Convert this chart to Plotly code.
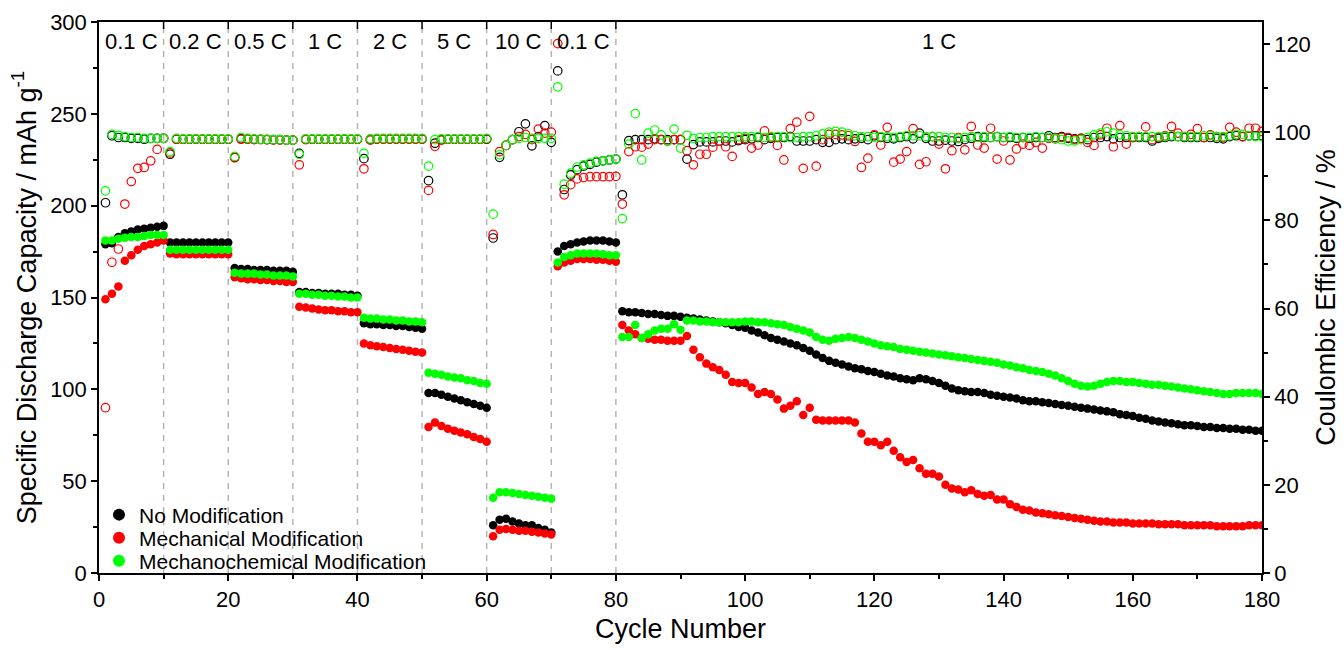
import plotly.graph_objects as go

cycles = list(range(1, 181))

# Specific discharge capacity (mAh g-1)
cap_none = [
    179, 179.5, 183, 185, 186, 187, 187.5, 188, 188.5, 189,
    180, 180, 180, 180, 180, 180, 180, 180, 180, 180,
    166, 165.5, 165.5, 165, 165, 165, 164.5, 164.5, 164.5, 164,
    153, 153, 152.5, 152.5, 152, 152, 152, 151.5, 151.5, 151,
    136, 135.5, 135.5, 135, 135, 134.5, 134.5, 134, 133.5, 133,
    98, 98, 97, 96, 95, 94, 93, 92, 91, 90,
    26, 29, 29.5, 28, 27, 26, 26, 24.5, 23.5, 22,
    175, 178, 179, 180, 180.5, 181, 181, 181, 180.5, 180,
    142.5, 142, 142, 141.5, 141, 141, 140.5, 140, 140, 139.5,
    139, 138.5, 138, 137.5, 137, 136.5, 136, 135, 134, 133.5,
    132, 131, 129.5, 128, 127, 126, 125, 124, 122.5, 121,
    119, 117, 115.5, 114.5, 113.5, 112.5, 111.5, 111, 110, 109.5,
    108.5, 107.5, 107, 106, 105.5, 105, 106, 105.5, 104.5, 103.5,
    102, 100.5, 99.5, 99, 98.5, 98.5, 98, 97, 96.5, 96,
    95.5, 95, 94, 93.5, 93.5, 93, 92.5, 92, 91.5, 91,
    90.5, 90, 89.5, 89, 88.5, 88, 87.5, 86.5, 86, 85.5,
    84.5, 84, 83, 82.5, 82, 81.5, 81, 80.5, 80.5, 80,
    79.5, 79.5, 79, 79, 78.5, 78.5, 78, 78, 77.5, 77.5,
]
cap_mech = [
    149, 152, 156, 170, 173, 176, 178, 179, 180, 181,
    174, 173.5, 173.5, 173.5, 173.5, 173.5, 173.5, 173.5, 173.5, 173.5,
    161, 160.5, 160, 160, 159.5, 159.5, 159, 159, 158.5, 158.5,
    145, 144.5, 144, 143.5, 143, 143, 142.5, 142.5, 142, 142,
    125, 124, 123.5, 123, 122.5, 122, 121.5, 121, 120.5, 120,
    79.5, 82, 80, 78.5, 77.5, 76.5, 75.5, 74, 73, 71.5,
    20, 23.5, 24, 23.5, 23, 23, 22.5, 22, 21.5, 21,
    167, 169, 170, 171, 171, 171, 170.5, 170.5, 170, 169.5,
    135, 132, 130, 128, 127.5, 127, 127, 126.5, 126.5, 126.5,
    129, 121.5, 117.5, 114, 112, 110.5, 108, 104, 103.5, 103.5,
    101, 97.5, 98.5, 97.5, 94.5, 89.5, 91, 93.5, 86, 90,
    83.5, 83, 83, 83, 83, 83, 82, 76, 71.5, 71.5,
    69.5, 71.5, 66.5, 63, 60.5, 61.5, 57, 54, 54, 52.5,
    48, 46, 45.5, 44, 45, 43, 42, 42.5, 40, 40,
    37.5, 36, 34.5, 34, 33, 32.5, 32, 31.5, 31, 30.5,
    30, 29.5, 29, 28.5, 28, 28, 27.5, 27.5, 27.5, 27,
    27, 27, 27, 26.5, 26.5, 26.5, 26.5, 26, 26, 26,
    26, 26, 25.5, 25.5, 25.5, 25.5, 25.5, 26, 26, 26,
]
cap_chem = [
    181, 181, 182, 182.5, 183, 183, 183.5, 184, 184, 184,
    176, 176, 176, 176, 176, 176, 176, 176, 176, 176,
    163.5, 163, 163, 163, 162.5, 162.5, 162, 162, 162, 161.5,
    152, 152, 151.5, 151.5, 151, 151, 150.5, 150.5, 150, 150,
    139, 138.5, 138.5, 138, 138, 137.5, 137.5, 137, 137, 136.5,
    109, 108.5, 108, 107, 106.5, 106, 105, 104.5, 103.5, 103,
    41, 44, 44, 43.5, 43, 42.5, 42, 41.5, 41, 40.5,
    169, 172, 173, 174, 174, 174, 174, 173.5, 173, 173,
    128.5, 128.5, 135, 128, 130, 132, 133, 133, 135.5, 132.5,
    137.5, 137.5, 137, 137, 136.5, 136.5, 136.5, 136.5, 136.5, 137,
    137, 136.5, 136.5, 136, 135.5, 135, 134, 133, 132, 131,
    128.5, 127, 126.5, 127.5, 128, 128.5, 128, 127, 126, 125,
    124, 123.5, 123, 122, 121.5, 121, 120.5, 120, 119.5, 119,
    118.5, 118, 117.5, 117, 116.5, 116, 115.5, 115, 114.5, 113.5,
    113, 112, 111.5, 110.5, 110, 109.5, 108.5, 107.5, 106, 104.5,
    103, 102, 101.5, 102, 103, 104, 104.5, 104.5, 104, 104,
    103.5, 103, 102.5, 102.5, 102, 101.5, 101, 100.5, 100, 99.5,
    99, 98.5, 98, 97.5, 97.5, 98, 98, 98, 98, 97.5,
]

# Coulombic efficiency (%)
ce_none = [
    84, 99.2, 98.8, 98.8, 98.6, 98.6, 98.4, 98.6, 98.6, 98.6,
    95, 98.4, 98.4, 98.4, 98.4, 98.4, 98.4, 98.4, 98.4, 98.4,
    94.3, 98.5, 98.5, 98.4, 98.4, 98.3, 98.3, 98.3, 98.2, 98.2,
    95.2, 98.4, 98.4, 98.4, 98.4, 98.4, 98.4, 98.4, 98.4, 98.4,
    94, 98.4, 98.5, 98.5, 98.5, 98.5, 98.5, 98.5, 98.5, 98.5,
    89, 97.5, 98.3, 98.4, 98.4, 98.4, 98.4, 98.4, 98.4, 98.4,
    76, 94.3, 97, 98.3, 100.1, 101.9, 96.9, 99, 101.5, 97.7,
    113.9, 87, 90.3, 91.5, 92.3, 92.7, 93.2, 93.5, 93.7, 93.9,
    85.8, 98.1, 98.3, 98.3, 98.3, 98.5, 98.3, 98.3, 98.3, 98.3,
    93.9, 97.2, 97.8, 97.8, 97.8, 98, 98, 97.8, 98.1, 98.3,
    98.5, 98.8, 98.3, 98.6, 98.8, 98.8, 99.0, 98.0, 98.0, 98.0,
    98.3, 97.7, 97.7, 98.3, 98.5, 98.3, 98.5, 98.6, 98.3, 99.2,
    98.8, 98.6, 98.5, 98.8, 99.0, 98.5, 99.8, 98.6, 98.0, 98.0,
    98.2, 98.0, 97.9, 98.3, 98.6, 99.0, 98.8, 98.8, 99.0, 98.8,
    98.8, 98.6, 98.8, 98.6, 98.8, 98.8, 99.2, 98.8, 99.0, 98.6,
    98.5, 98.6, 98.3, 98.8, 98.8, 99.0, 98.5, 98.8, 98.8, 98.8,
    98.8, 98.8, 98.0, 98.6, 98.8, 99.0, 99.0, 98.8, 98.8, 98.8,
    98.8, 98.8, 98.6, 98.5, 99.0, 99.2, 99.0, 99.2, 99.2, 99.2,
]
ce_mech = [
    37.5, 70.5, 73.5, 83.7, 88.8, 91.8, 92, 93.5, 96.1, 98.6,
    95.3, 98.4, 98.4, 98.4, 98.5, 98.4, 98.4, 98.4, 98.4, 98.4,
    94.2, 98.4, 98.4, 98.3, 98.3, 98.3, 98.2, 98.2, 98.2, 98.2,
    92.6, 98.3, 98.4, 98.4, 98.4, 98.4, 98.4, 98.4, 98.4, 98.4,
    91.7, 98.2, 98.4, 98.4, 98.4, 98.4, 98.4, 98.4, 98.4, 98.4,
    86.8, 96.8, 98.2, 98.4, 98.4, 98.4, 98.4, 98.4, 98.4, 98.5,
    76.8, 95.6, 97, 98.3, 99, 99.5, 98.3, 100.7, 99.8, 100,
    120.1, 85.8, 88.1, 89.4, 89.7, 89.9, 89.9, 89.9, 89.9, 90,
    83.7, 95.6, 96.7, 96.6, 97.3, 98.3, 98.3, 98, 98.3, 98.3,
    95.8, 92.6, 95, 95, 96.6, 98, 96.7, 94.5, 98.3, 98.6,
    96.4, 97.1, 100.3, 98.8, 97.0, 93.7, 100.8, 102.3, 91.8, 103.6,
    92.3, 98.3, 99.5, 99.5, 99.4, 99.2, 97.9, 92.0, 94.1, 99.4,
    97.1, 101.1, 93.2, 93.9, 95.6, 100.8, 92.7, 93.3, 99.0, 97.3,
    91.7, 95.8, 98.8, 96.0, 101.3, 97.1, 96.4, 100.9, 93.9, 98.0,
    93.7, 96.2, 97.3, 97.0, 97.7, 96.4, 98.6, 98.5, 98.8, 98.8,
    98.3, 98.6, 97.7, 97.0, 99.4, 100.9, 96.7, 101.5, 97.3, 98.8,
    99.0, 101.2, 98.3, 98.8, 99.2, 101.3, 99.8, 99.0, 99.5, 100.8,
    98.8, 99.4, 99.0, 98.8, 101.1, 100.0, 99.0, 100.9, 100.9, 100.2,
]
ce_chem = [
    86.7, 99.5, 99.3, 99.0, 98.8, 98.8, 98.6, 98.6, 98.6, 98.6,
    95.6, 98.6, 98.5, 98.5, 98.5, 98.5, 98.5, 98.5, 98.5, 98.5,
    94.5, 98.8, 98.6, 98.5, 98.4, 98.4, 98.3, 98.3, 98.2, 98.2,
    95, 98.5, 98.5, 98.5, 98.5, 98.5, 98.5, 98.5, 98.5, 98.5,
    95.2, 98.5, 98.6, 98.6, 98.6, 98.6, 98.6, 98.6, 98.6, 98.6,
    92.3, 98.3, 98.5, 98.5, 98.5, 98.5, 98.5, 98.5, 98.5, 98.6,
    81.4, 94.9, 97, 98.3, 98.6, 98.8, 98.6, 98.6, 98.6, 98.6,
    110.3, 88.2, 90.7, 92.1, 92.6, 93, 93.4, 93.5, 93.7, 93.9,
    80.4, 97.3, 104.2, 93.7, 99.8, 100.5, 99.4, 98, 100.7, 96.4,
    99.3, 98.6, 98.8, 98.8, 99, 99, 99, 99, 99, 99,
    99, 99, 98.8, 99, 99, 99, 98.8, 98.8, 99, 99,
    99.2, 99.6, 100, 100.2, 100, 99.6, 99.2, 99, 99, 98.8,
    99, 99, 98.8, 99, 99.2, 99.2, 99.2, 99, 99, 99,
    98.8, 98.8, 98.6, 98.8, 99, 98.8, 99, 98.8, 99, 98.8,
    99, 98.8, 98.8, 98.8, 99, 98.8, 98.8, 98.6, 98.3, 98,
    98, 98.3, 98.8, 99.4, 99.8, 100.1, 99.8, 99.4, 99.2, 99,
    99, 99, 99, 99, 99, 99.2, 99, 99, 99, 99,
    99.2, 99.2, 99, 99, 99.2, 99.5, 99.5, 99.2, 99, 99,
]

series_names = ["No Modification", "Mechanical Modification", "Mechanochemical Modification"]
series_colors = ["#000000", "#ff0000", "#00ff00"]
caps = [cap_none, cap_mech, cap_chem]
ces = [ce_none, ce_mech, ce_chem]

rate_bounds = [10, 20, 30, 40, 50, 60, 70, 80]
rate_labels = ["0.1 C", "0.2 C", "0.5 C", "1 C", "2 C", "5 C", "10 C", "0.1 C", "1 C"]
rate_label_x = [5, 15, 25, 35, 45, 55, 65, 75, 130]

for arr in caps + ces:
    assert len(arr) == 180, len(arr)

FONT = "Liberation Sans, Arial, sans-serif"
legend_ids = ["legend", "legend2", "legend3"]
legend_ys = [0.1053, 0.0635, 0.0218]

fig = go.Figure()

for name, cap, color, lid in zip(series_names, caps, series_colors, legend_ids):
    fig.add_trace(go.Scatter(
        x=cycles, y=cap, mode="markers", name=name, yaxis="y", legend=lid,
        marker=dict(color=color, size=8.5, line=dict(width=0)),
    ))
for name, ce, color in zip(series_names, ces, series_colors):
    fig.add_trace(go.Scatter(
        x=cycles, y=ce, mode="markers", name=name + " CE", yaxis="y2",
        showlegend=False,
        marker=dict(symbol="circle-open", color=color, size=8.5, line=dict(width=1.2, color=color)),
    ))

shapes = []
for b in rate_bounds:
    shapes.append(dict(type="line", xref="x", yref="paper", x0=b, x1=b, y0=0, y1=1,
                       line=dict(color="#b4b4b4", width=1.5, dash="6px,6px"), layer="below"))
    shapes.append(dict(type="line", xref="x", yref="paper", x0=b, x1=b, y0=1 - 7 / 551, y1=1,
                       line=dict(color="#000000", width=1.5)))

annotations = []
for lab, xc in zip(rate_labels, rate_label_x):
    annotations.append(dict(x=xc, y=0.964, xref="x", yref="paper", text=lab, showarrow=False,
                            font=dict(size=22, color="black", family=FONT), xanchor="center", yanchor="middle"))

axis_common = dict(
    showline=True, linecolor="black", linewidth=1.5, ticks="outside", ticklen=6, tickwidth=1.5,
    tickcolor="black", showgrid=False, zeroline=False, automargin=False,
    tickfont=dict(size=22, color="black", family=FONT),
)

legend_common = dict(xanchor="left", yanchor="middle", bgcolor="rgba(0,0,0,0)",
                     font=dict(size=21, color="black", family=FONT), itemsizing="constant")

fig.update_layout(
    width=1344, height=650,
    margin=dict(l=99, r=82, t=22, b=77),
    plot_bgcolor="white", paper_bgcolor="white",
    font=dict(family=FONT, color="black"),
    shapes=shapes, annotations=annotations,
    xaxis=dict(range=[0, 180], dtick=20, mirror=True,
               minor=dict(dtick=10, ticklen=4, tickwidth=1.5, tickcolor="black", ticks="outside"),
               title=dict(text="Cycle Number", font=dict(size=27, color="black", family=FONT), standoff=8),
               **axis_common),
    yaxis=dict(range=[0, 300], dtick=50,
               minor=dict(dtick=25, ticklen=4, tickwidth=1.5, tickcolor="black", ticks="outside"),
               title=dict(text="Specific Discharge Capacity / mAh g<sup>-1</sup>",
                          font=dict(size=27, color="black", family=FONT), standoff=6),
               **axis_common),
    yaxis2=dict(range=[0, 125], dtick=20, overlaying="y", side="right",
                minor=dict(dtick=10, ticklen=4, tickwidth=1.5, tickcolor="black", ticks="outside"),
                title=dict(text="Coulombic Efficiency / %",
                           font=dict(size=27, color="black", family=FONT), standoff=6),
                **axis_common),
    legend=dict(x=0.0, y=legend_ys[0], **legend_common),
    legend2=dict(x=0.0, y=legend_ys[1], **legend_common),
    legend3=dict(x=0.0, y=legend_ys[2], **legend_common),
    showlegend=True,
)

fig.write_html("out.html", config={"displayModeBar": False},
               post_script="document.body.style.margin='0';")
